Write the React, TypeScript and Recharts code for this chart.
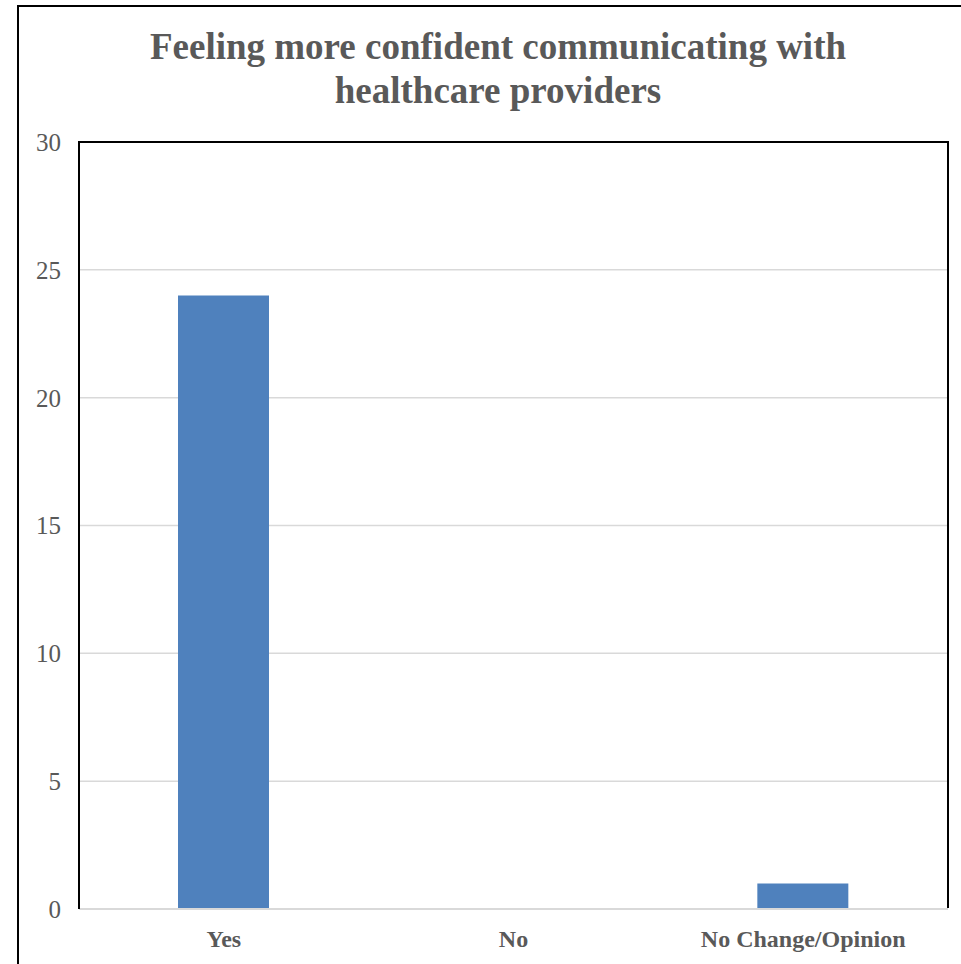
import { BarChart, Bar, XAxis, YAxis, CartesianGrid } from "recharts";

const answers = ["Yes", "No", "No Change/Opinion"];
const counts = [24, 0, 1];
const yTicks = [0, 5, 10, 15, 20, 25, 30];
const titleLines = ["Feeling more confident communicating with", "healthcare providers"];

const data = answers.map((name, i) => ({ name, value: counts[i] }));

const SERIF = '"Liberation Serif", "Times New Roman", serif';
const INK = "#595959";
const GRID = "#d9d9d9";
const BLUE = "#4f81bd";

// plot box in page pixels
const PLOT = { left: 79, top: 142, right: 948, bottom: 909 };

export default function App() {
  return (
    <div style={{ position: "absolute", left: 0, top: 0, width: 961, height: 964, overflow: "hidden", background: "#fff" }}>
      {/* outer chart frame, runs off the right and bottom edges */}
      <div style={{ position: "absolute", left: 17, top: 5, width: 1000, height: 1000, border: "2px solid #000", boxSizing: "border-box" }} />
      <svg width={961} height={130} style={{ position: "absolute", left: 0, top: 0 }}>
        {titleLines.map((t, i) => (
          <text key={i} x={498} y={59 + i * 44} textAnchor="middle" fontFamily={SERIF} fontWeight="bold" fontSize={37} fill={INK}>
            {t}
          </text>
        ))}
      </svg>
      <div style={{ position: "absolute", left: 0, top: 0 }}>
        <BarChart
          width={961}
          height={964}
          data={data}
          margin={{ top: PLOT.top, right: 961 - PLOT.right, left: PLOT.left - 60, bottom: 5 }}
        >
          <CartesianGrid vertical={false} stroke={GRID} strokeWidth={1.5} />
          <XAxis
            dataKey="name"
            axisLine={{ stroke: GRID, strokeWidth: 2 }}
            tickLine={false}
            tickSize={0}
            tickMargin={21}
            height={964 - PLOT.bottom - 5}
            interval={0}
            tick={{ fontFamily: SERIF, fontWeight: "bold", fontSize: 24, fill: INK }}
          />
          <YAxis
            domain={[0, 30]}
            ticks={yTicks}
            width={60}
            axisLine={{ stroke: "#000", strokeWidth: 2 }}
            tickLine={false}
            tickSize={0}
            tickMargin={18}
            tick={{ fontFamily: SERIF, fontSize: 25, fill: INK }}
          />
          <Bar dataKey="value" fill={BLUE} barSize={91} isAnimationActive={false} />
        </BarChart>
      </div>
      {/* black frame on the top and right sides of the plot area */}
      <div
        style={{
          position: "absolute",
          left: PLOT.left - 1,
          top: PLOT.top - 1,
          width: PLOT.right - PLOT.left + 2,
          height: PLOT.bottom - PLOT.top,
          borderTop: "2px solid #000",
          borderRight: "2px solid #000",
          boxSizing: "border-box",
          pointerEvents: "none",
        }}
      />
    </div>
  );
}
